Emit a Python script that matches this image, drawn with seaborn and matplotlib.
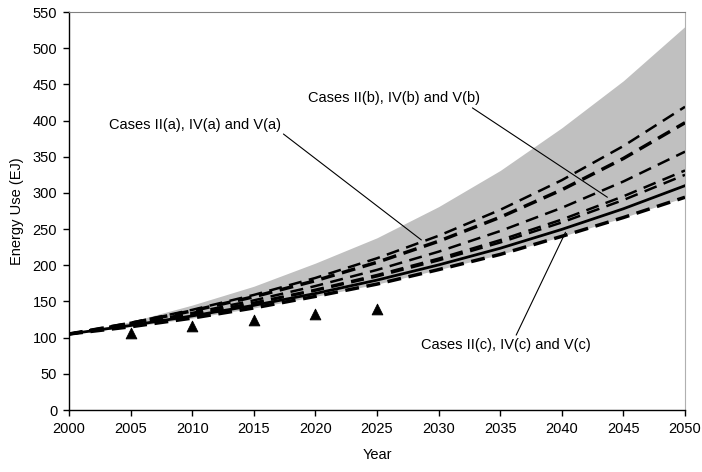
import matplotlib
matplotlib.use("Agg")
import matplotlib.pyplot as plt
import seaborn as sns
import pandas as pd

years = [2000, 2005, 2010, 2015, 2020, 2025, 2030, 2035, 2040, 2045, 2050]

band_upper = [105, 122, 145, 171, 203, 238, 281, 331, 390, 455, 530]
band_lower = [105, 115, 127, 141, 157, 174, 194, 215, 240, 266, 294]

case_1 = [105, 120.5, 138.4, 159.0, 182.5, 209.7, 240.8, 276.6, 317.6, 364.8, 419]
case_2 = [105, 119.9, 137.0, 156.5, 178.7, 204.1, 233.2, 266.4, 304.3, 347.6, 397]
case_3 = [105, 118.7, 134.1, 151.5, 171.3, 193.6, 218.8, 247.3, 279.4, 315.8, 357]
case_4 = [105, 117.8, 132.1, 148.2, 166.2, 186.5, 209.2, 234.7, 263.2, 295.3, 331]
case_5 = [105, 117.6, 131.6, 147.4, 165.0, 184.7, 206.8, 231.5, 259.2, 290.2, 325]
case_solid = [105, 116.8, 130.0, 144.6, 161.0, 179.5, 200.5, 223.5, 249.6, 278.1, 310]
case_low = [105, 115, 127, 141, 157, 174, 194, 215, 240, 266, 294]

hist_years = [2005, 2010, 2015, 2020, 2025]
hist_vals = [107, 116.5, 124, 132, 140]

plt.rcParams['font.family'] = ['Liberation Sans', 'DejaVu Sans']
FS = 10.5

fig = plt.figure(figsize=(7.02, 4.72), dpi=100)
ax = fig.add_axes([69/702, 1-410/472, (685-69)/702, (410-12)/472])

ax.fill_between(years, band_lower, band_upper, color='#c0c0c0', lw=0, zorder=1)

series = [
    (case_1, 1.8, (0, (5.2, 3.0))),
    (case_2, 2.5, (0, (4.0, 2.2))),
    (case_3, 1.8, (0, (5.2, 3.0))),
    (case_4, 1.8, (0, (5.2, 3.0))),
    (case_5, 1.8, (0, (5.2, 3.0))),
    (case_solid, 2.0, '-'),
    (case_low, 2.5, (0, (4.0, 2.2))),
]
for vals, lw, ls in series:
    df = pd.DataFrame({'Year': years, 'E': vals})
    sns.lineplot(data=df, x='Year', y='E', ax=ax, color='black', lw=lw,
                 linestyle=ls, zorder=3)

sns.scatterplot(x=hist_years, y=hist_vals, ax=ax, marker='^', s=60,
                color='black', edgecolor='black', zorder=4)

ax.set_xlim(2000, 2050)
ax.set_ylim(0, 550)
ax.set_xticks(range(2000, 2051, 5))
ax.set_yticks(range(0, 551, 50))
ax.tick_params(direction='out', length=4, width=1, colors='black',
               labelsize=FS, pad=4.5)
ax.set_xlabel('Year', fontsize=FS, labelpad=9)
ax.set_ylabel('Energy Use (EJ)', fontsize=FS, labelpad=6)

for s in ['left', 'bottom']:
    ax.spines[s].set_color('black')
    ax.spines[s].set_linewidth(1)
ax.spines['top'].set_color('#808080')
ax.spines['right'].set_color('#b0b0b0')

ax.annotate('Cases II(a), IV(a) and V(a)', xy=(2028.6, 235), xytext=(2010.2, 394),
            ha='center', va='center', fontsize=FS, zorder=5,
            arrowprops=dict(arrowstyle='-', color='black', lw=0.8,
                            shrinkA=0, shrinkB=0, relpos=(1.0, 0.0)))
ax.annotate('Cases II(b), IV(b) and V(b)', xy=(2043.7, 294), xytext=(2026.4, 431),
            ha='center', va='center', fontsize=FS, zorder=5,
            arrowprops=dict(arrowstyle='-', color='black', lw=0.8,
                            shrinkA=0, shrinkB=0, relpos=(0.93, 0.0)))
ax.annotate('Cases II(c), IV(c) and V(c)', xy=(2040.3, 245.6), xytext=(2035.5, 90),
            ha='center', va='center', fontsize=FS, zorder=5,
            arrowprops=dict(arrowstyle='-', color='black', lw=0.8,
                            shrinkA=0, shrinkB=0, relpos=(0.55, 1.0)))

fig.savefig('out.png', dpi=100)
